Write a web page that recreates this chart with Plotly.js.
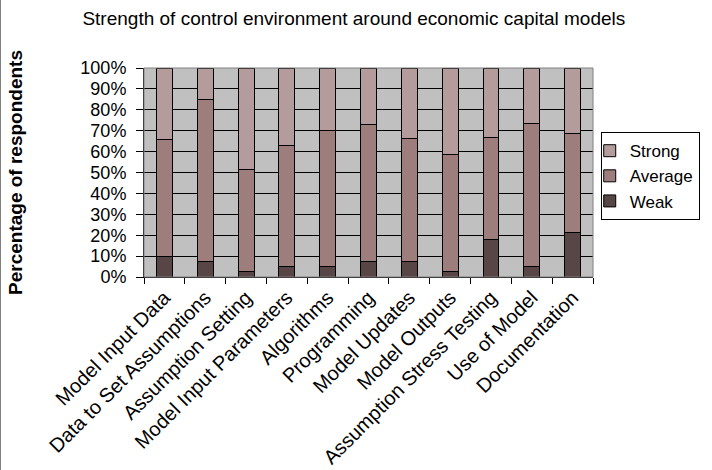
<!DOCTYPE html>
<html>
<head>
<meta charset="utf-8">
<script src="https://cdn.plot.ly/plotly-3.0.1.min.js"></script>
<style>
  html, body { margin: 0; padding: 0; background: #ffffff; }
  #wrap { position: relative; width: 712px; height: 470px; overflow: hidden; }
  #chart { width: 712px; height: 470px; }
  #edge { position: absolute; left: 0; top: 0; width: 1px; height: 470px; background: #808080; }
</style>
</head>
<body>
<div id="wrap">
  <div id="chart"></div>
  <div id="edge"></div>
</div>
<script>
const categories = [
  "Model Input Data", "Data to Set Assumptions", "Assumption Setting",
  "Model Input Parameters", "Algorithms", "Programming", "Model Updates",
  "Model Outputs", "Assumption Stress Testing", "Use of Model", "Documentation"
];
const weak    = [9.8, 7.5, 2.5, 4.9, 4.9, 7.4, 7.3, 2.4, 17.9, 4.9, 21.1];
const average = [56.2, 77.3, 49.0, 57.8, 65.3, 65.4, 58.8, 56.2, 49.0, 68.7, 47.7];
const strong  = [34.0, 15.2, 48.5, 37.3, 29.8, 27.2, 33.9, 41.4, 33.1, 26.4, 31.2];
const seriesNames = ["Weak", "Average", "Strong"];
const colors = ["#584545", "#9E7D7D", "#B49C9C"];

const FONT = "Liberation Sans, Arial, sans-serif";
const values = [weak, average, strong];
const traces = values.map((v, i) => ({
  type: "bar",
  name: seriesNames[i],
  x: categories,
  y: v,
  marker: { color: colors[i], line: { color: "#000000", width: 1 } },
  hoverinfo: "x+y+name"
}));

const layout = {
  width: 712,
  height: 470,
  margin: { l: 144, r: 104, t: 68, b: 193 },
  paper_bgcolor: "#ffffff",
  plot_bgcolor: "#C0C0C0",
  barmode: "stack",
  bargap: 0.61,
  font: { family: FONT, color: "#000000", size: 17 },
  title: {
    text: "Strength of control environment around economic capital models",
    font: { family: FONT, size: 19, color: "#000000" },
    x: 0.497, xanchor: "center",
    y: 0.96, yanchor: "middle"
  },
  xaxis: {
    type: "category",
    tickangle: -45,
    tickson: "boundaries",
    ticks: "outside",
    ticklen: 6,
    tickcolor: "#000000",
    showline: true,
    linecolor: "#000000",
    linewidth: 1,
    showgrid: false,
    tickfont: { family: FONT, size: 20, color: "#000000" },
    automargin: false
  },
  yaxis: {
    range: [0, 100],
    dtick: 10,
    ticksuffix: "%",
    ticks: "outside",
    ticklen: 7,
    tickcolor: "#000000",
    ticklabelstandoff: 6,
    showline: true,
    linecolor: "#000000",
    linewidth: 1,
    gridcolor: "#000000",
    gridwidth: 1,
    zeroline: false,
    tickfont: { family: FONT, size: 18, color: "#000000" },
    title: {
      text: "<b>Percentage of respondents</b>",
      font: { family: FONT, size: 19, color: "#000000" },
      standoff: 52
    },
    automargin: false
  },
  legend: {
    x: 1.0172, xanchor: "left",
    y: 0.693, yanchor: "top",
    traceorder: "reversed",
    indentation: -12,
    bgcolor: "#ffffff",
    bordercolor: "#000000",
    borderwidth: 1,
    font: { family: FONT, size: 17, color: "#000000" }
  },
  shapes: [{
    type: "rect", xref: "paper", yref: "paper",
    x0: 0, x1: 1, y0: 0, y1: 1,
    line: { color: "#808080", width: 1 },
    fillcolor: "rgba(0,0,0,0)",
    layer: "above"
  }],
  showlegend: true
};

Plotly.newPlot("chart", traces, layout, { displayModeBar: false });
</script>
</body>
</html>
